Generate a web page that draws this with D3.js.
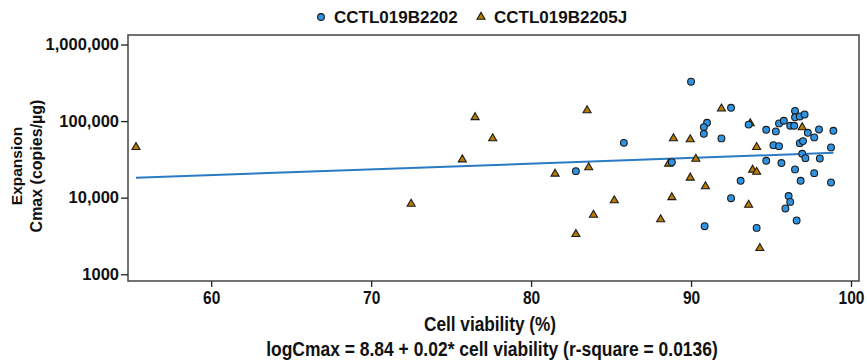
<!DOCTYPE html>
<html>
<head>
<meta charset="utf-8">
<script src="https://cdn.jsdelivr.net/npm/d3@7"></script>
<style>
  body { margin: 0; background: #fff; }
  text { font-family: "Liberation Sans", Arial, sans-serif; font-weight: bold; fill: #111; }
</style>
</head>
<body>
<svg id="chart" width="867" height="360"></svg>
<script>
// series names
var seriesNames = ['CCTL019B2202', 'CCTL019B2205J'];

// CCTL019B2202 : [cell viability %, Cmax copies/ug]
var b2202 = [
  [82.8, 22200], [85.8, 52000], [88.8, 29100], [90.0, 327000], [91.0, 95000],
  [90.8, 83500], [90.8, 68200], [90.85, 4240], [91.9, 59400], [92.5, 149000],
  [92.5, 9840], [93.1, 16600], [93.6, 90000], [94.1, 4030], [94.7, 76900],
  [94.7, 30300], [95.15, 48500], [95.3, 73300], [95.5, 93300], [95.5, 47100],
  [95.65, 28300], [95.8, 101000], [95.9, 7230], [96.1, 10500], [96.2, 8810],
  [96.2, 86900], [96.45, 86900], [96.5, 136000], [96.5, 112000], [96.5, 23400],
  [96.6, 5040], [96.8, 115000], [96.8, 51500], [96.85, 16600], [97.0, 54800],
  [96.95, 37400], [97.1, 122000], [97.15, 32800], [97.3, 70300], [97.7, 61200],
  [97.7, 20900], [98.0, 77800], [98.05, 32500], [98.75, 45300], [98.75, 15800],
  [98.9, 74700]
];

// CCTL019B2205J
var b2205j = [
  [55.3, 45700], [72.5, 8300], [75.7, 31500], [76.5, 112000], [77.6, 59400],
  [81.5, 20500], [83.5, 138000], [83.6, 24800], [83.9, 5960], [82.8, 3330],
  [85.2, 9190], [88.1, 5190], [88.9, 59400], [88.6, 27700], [88.8, 10100],
  [89.95, 57700], [90.3, 32100], [89.95, 18200], [90.9, 14000], [91.9, 145000],
  [93.7, 93000], [94.1, 45700], [93.85, 23100], [94.1, 21700], [93.6, 8050],
  [94.3, 2190], [96.95, 82800]
];

// fitted line, end points
var fitLine = [[55.3, 18200], [98.9, 38500]];

var xTicks = [60, 70, 80, 90, 100];
var yTicks = [1000, 10000, 100000, 1000000];
var yTickLabels = ['1000', '10,000', '100,000', '1,000,000'];

var svg = d3.select('#chart');
var margin = {left: 128, right: 8, top: 35, bottom: 79};
var W = 867, H = 360;
var NARROW = 0.84; // squeeze for the condensed bottom texts

var x = d3.scaleLinear().domain([54.8, 100.5]).range([margin.left, W - margin.right]);
var y = d3.scaleLog().domain([Math.pow(10, 2.912), Math.pow(10, 6.124)]).range([H - margin.bottom, margin.top]);

// frame
svg.append('rect')
  .attr('x', margin.left).attr('y', margin.top)
  .attr('width', W - margin.right - margin.left)
  .attr('height', H - margin.bottom - margin.top)
  .attr('fill', 'none').attr('stroke', '#444').attr('stroke-width', 1.5);

// axes
var xAxis = svg.append('g')
  .attr('transform', 'translate(0,' + (H - margin.bottom) + ')')
  .call(d3.axisBottom(x).tickValues(xTicks).tickSize(6).tickSizeOuter(0).tickPadding(4));
xAxis.select('.domain').remove();
xAxis.selectAll('line').attr('stroke', '#222').attr('stroke-width', 1.3);
xAxis.selectAll('text').attr('font-size', 18.5).attr('fill', '#111')
  .attr('transform', 'scale(' + NARROW + ',1)')
  .style('font-weight', 'bold');

var yAxis = svg.append('g')
  .attr('transform', 'translate(' + margin.left + ',0)')
  .call(d3.axisLeft(y).tickValues(yTicks).tickSize(7).tickSizeOuter(0).tickPadding(2)
    .tickFormat((d, i) => yTickLabels[i]));
yAxis.select('.domain').remove();
yAxis.selectAll('line').attr('stroke', '#222').attr('stroke-width', 1.3);
yAxis.selectAll('text').attr('font-size', 16.5).attr('fill', '#111').style('font-weight', 'bold')
  .attr('font-family', '"Liberation Sans", Arial, sans-serif');

// axis titles
svg.append('text')
  .attr('transform', 'translate(21.5,166) rotate(-90)')
  .attr('text-anchor', 'middle').attr('font-size', 15.5)
  .text('Expansion');
svg.append('text')
  .attr('transform', 'translate(41.5,166) rotate(-90)')
  .attr('text-anchor', 'middle').attr('font-size', 16)
  .text('Cmax (copies/µg)');

svg.append('text')
  .attr('transform', 'translate(490,331) scale(' + NARROW + ',1)')
  .attr('text-anchor', 'middle').attr('font-size', 20.5)
  .text('Cell viability (%)');

svg.append('text')
  .attr('transform', 'translate(492,356) scale(' + NARROW + ',1)')
  .attr('text-anchor', 'middle').attr('font-size', 20.8)
  .text('logCmax = 8.84 + 0.02* cell viability (r-square = 0.0136)');

// fit line
var line = d3.line().x(d => x(d[0])).y(d => y(d[1]));
svg.append('path')
  .datum(fitLine)
  .attr('d', line)
  .attr('fill', 'none')
  .attr('stroke', '#2b7bc4')
  .attr('stroke-width', 2);

var tri = d3.symbol().type(d3.symbolTriangle).size(28);

// triangles
svg.append('g').selectAll('path')
  .data(b2205j).enter()
  .append('path')
  .attr('d', tri)
  .attr('transform', d => 'translate(' + x(d[0]) + ',' + y(d[1]) + ')')
  .attr('fill', '#b87a00')
  .attr('stroke', '#1a1a1a')
  .attr('stroke-width', 1.1);

// circles
svg.append('g').selectAll('circle')
  .data(b2202).enter()
  .append('circle')
  .attr('cx', d => x(d[0]))
  .attr('cy', d => y(d[1]))
  .attr('r', 3.4)
  .attr('fill', '#2f93e3')
  .attr('stroke', '#1a1a1a')
  .attr('stroke-width', 1.1);

// legend
var leg = svg.append('g');
leg.append('circle').attr('cx', 321).attr('cy', 17).attr('r', 3.4)
  .attr('fill', '#2f93e3').attr('stroke', '#1a1a1a').attr('stroke-width', 1.1);
leg.append('text').attr('x', 334).attr('y', 23).attr('font-size', 17).text(seriesNames[0]);
leg.append('path').attr('d', tri).attr('transform', 'translate(481,17)')
  .attr('fill', '#b87a00').attr('stroke', '#1a1a1a').attr('stroke-width', 1.1);
leg.append('text').attr('x', 494).attr('y', 23).attr('font-size', 17).text(seriesNames[1]);
</script>
</body>
</html>
